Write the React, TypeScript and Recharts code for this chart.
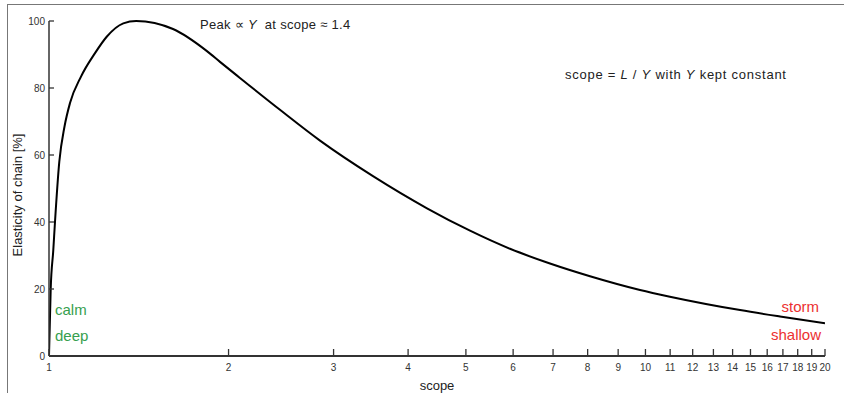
import { LineChart, Line, XAxis, YAxis } from "recharts";

// values (scope is on a log axis)
const scopeValues = [
  1, 1.0066, 1.0167, 1.0234, 1.0406, 1.0617, 1.0844, 1.1315, 1.1943, 1.2495,
  1.3322, 1.4, 1.614, 1.84, 1.935, 2.09, 2.439, 2.847, 3.493, 4.303, 5.08,
  5.928, 6.917, 8.073, 9.792, 10.99, 14.41, 16.81, 20,
];
const elasticityValues = [
  0, 20, 31.6, 40, 58, 68.5, 75.5, 83.4, 90.4, 95.3, 99.3, 100, 97.6, 91, 87.8,
  83, 73.5, 64.3, 53.7, 44.1, 37.4, 32, 27.6, 23.8, 19.7, 17.7, 13.7, 11.8,
  9.8,
];
const xTicks = [1, 2, 3, 4, 5, 6, 7, 8, 9, 10, 11, 12, 13, 14, 15, 16, 17, 18, 19, 20];
const yTicks = [0, 20, 40, 60, 80, 100];

const data = scopeValues.map((scope, i) => ({
  scope,
  elasticity: elasticityValues[i],
}));

const font = "'Liberation Sans', Arial, sans-serif";
const axisColor = "#333";
const green = "#36a04e";
const red = "#ec3030";

// ticks point into the plot, so draw them ourselves
const XTick = ({ x, y, payload }: any) => (
  <g>
    <line x1={x} x2={x} y1={y} y2={y - 7} stroke={axisColor} strokeWidth={1.3} />
    <text x={x} y={y + 15} textAnchor="middle" fontSize={10} fill="#333" fontFamily={font}>
      {payload.value}
    </text>
  </g>
);

const YTick = ({ x, y, payload }: any) => (
  <g>
    <line x1={x} x2={x + 5} y1={y} y2={y} stroke={axisColor} strokeWidth={1.3} />
    <text x={x - 4} y={y} dy="0.35em" textAnchor="end" fontSize={10} fill="#333" fontFamily={font}>
      {payload.value}
    </text>
  </g>
);

export default function App() {
  return (
    <div
      style={{
        position: "absolute",
        left: 0,
        top: 0,
        width: 844,
        height: 393,
        background: "#fff",
        fontFamily: font,
        overflow: "hidden",
      }}
    >
      {/* frame */}
      <div
        style={{
          position: "absolute",
          left: 7,
          top: 4,
          width: 844,
          height: 400,
          borderTop: "1.5px solid #777",
          borderLeft: "1.5px solid #777",
        }}
      />
      <LineChart
        width={844}
        height={393}
        data={data}
        margin={{ top: 21, right: 19, bottom: 7, left: 9 }}
        style={{ position: "absolute", left: 0, top: 0 }}
      >
        <XAxis
          dataKey="scope"
          type="number"
          scale="log"
          domain={[1, 20]}
          ticks={xTicks}
          interval={0}
          allowDataOverflow
          height={30}
          tickSize={0}
          tickMargin={0}
          stroke={axisColor}
          strokeWidth={1.8}
          tick={<XTick />}
        />
        <YAxis
          type="number"
          domain={[0, 100]}
          ticks={yTicks}
          interval={0}
          width={40}
          tickSize={0}
          tickMargin={0}
          stroke={axisColor}
          strokeWidth={1.5}
          tick={<YTick />}
        />
        <Line
          type="monotone"
          dataKey="elasticity"
          stroke="#000"
          strokeWidth={2}
          dot={false}
          isAnimationActive={false}
        />
      </LineChart>

      {/* axis titles */}
      <div
        style={{
          position: "absolute",
          left: 17,
          top: 195,
          transform: "translate(-50%, -50%) rotate(-90deg)",
          fontSize: 13,
          color: "#222",
          whiteSpace: "nowrap",
        }}
      >
        Elasticity of chain [%]
      </div>
      <div
        style={{
          position: "absolute",
          left: 437,
          top: 385,
          transform: "translate(-50%, -50%)",
          fontSize: 13,
          color: "#222",
        }}
      >
        scope
      </div>

      {/* annotations */}
      <div
        style={{
          position: "absolute",
          left: 200,
          top: 17,
          fontSize: 13,
          letterSpacing: 0.3,
          color: "#222",
          whiteSpace: "nowrap",
        }}
      >
        Peak ∝ <i>Y</i>&nbsp; at scope ≈ 1.4
      </div>
      <div
        style={{
          position: "absolute",
          left: 565,
          top: 67,
          fontSize: 13,
          letterSpacing: 0.75,
          color: "#222",
          whiteSpace: "nowrap",
        }}
      >
        scope = <i>L</i> / <i>Y</i> with <i>Y</i> kept constant
      </div>
      <div style={{ position: "absolute", left: 55, top: 301, fontSize: 15, color: green }}>
        calm
      </div>
      <div style={{ position: "absolute", left: 55, top: 327, fontSize: 15, color: green }}>
        deep
      </div>
      <div
        style={{
          position: "absolute",
          right: 844 - 819,
          top: 298,
          fontSize: 15,
          color: red,
        }}
      >
        storm
      </div>
      <div
        style={{
          position: "absolute",
          right: 844 - 821,
          top: 326,
          fontSize: 15,
          color: red,
        }}
      >
        shallow
      </div>
    </div>
  );
}
